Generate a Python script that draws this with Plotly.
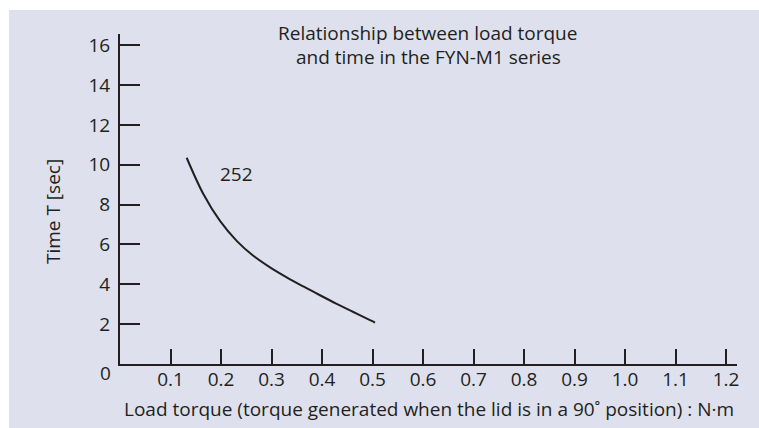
import plotly.graph_objects as go

# ---- data ----
torque = [0.132, 0.165, 0.198, 0.231, 0.264, 0.297, 0.330, 0.363, 0.396, 0.429, 0.462, 0.495, 0.505]
time_sec = [10.35, 8.53, 7.18, 6.18, 5.43, 4.85, 4.35, 3.89, 3.45, 3.02, 2.61, 2.20, 2.08]
series_label = "252"
x_ticks = [0.1, 0.2, 0.3, 0.4, 0.5, 0.6, 0.7, 0.8, 0.9, 1.0, 1.1, 1.2]
x_ticktext = ["0.1", "0.2", "0.3", "0.4", "0.5", "0.6", "0.7", "0.8", "0.9", "1.0", "1.1", "1.2"]
y_ticks = [2, 4, 6, 8, 10, 12, 14, 16]
title_lines = ["Relationship between load torque", "and time in the FYN-M1 series"]
x_title = "Load torque (torque generated when the lid is in a 90˚ position) : N·m"
y_title = "Time T [sec]"

W, H = 759, 428
ML, MR, MT, MB = 120, 22, 34, 64
PW, PH = W - ML - MR, H - MT - MB

def px(x):
    return (x - ML) / PW

def py(y):
    return (H - MB - y) / PH

FONT = "Open Sans"
TXT = "#231f20"
BG = "#dee1ed"
FS = 19

fig = go.Figure()
fig.add_trace(go.Scatter(x=torque, y=time_sec, mode="lines",
                         line=dict(color=TXT, width=2, shape="spline", smoothing=1.0),
                         hoverinfo="skip", showlegend=False))

fig.update_layout(
    width=W, height=H,
    margin=dict(l=ML, r=MR, t=MT, b=MB, pad=0),
    paper_bgcolor="white",
    plot_bgcolor="rgba(0,0,0,0)",
    font=dict(family=FONT, color=TXT, size=FS),
    showlegend=False,
    xaxis=dict(range=[0, 1.2216], showgrid=False, zeroline=False,
               showline=True, linecolor=TXT, linewidth=2,
               ticks="inside", ticklen=15, tickwidth=2, tickcolor=TXT,
               tickvals=x_ticks, ticktext=x_ticktext, ticklabelstandoff=-3,
               tickfont=dict(size=FS, family=FONT, color=TXT), fixedrange=True),
    yaxis=dict(range=[0, 16.56], showgrid=False, zeroline=False,
               showline=True, linecolor=TXT, linewidth=2,
               ticks="inside", ticklen=20, tickwidth=2, tickcolor=TXT,
               tickvals=y_ticks, ticklabelstandoff=4,
               tickfont=dict(size=FS, family=FONT, color=TXT), fixedrange=True),
    shapes=[dict(type="rect", xref="paper", yref="paper",
                 x0=px(9), x1=px(W + 2), y0=py(H + 2), y1=py(10),
                 fillcolor=BG, line=dict(width=0), layer="below")],
)

ann = []
ann.append(dict(text=title_lines[0], x=px(427), y=py(33)))
ann.append(dict(text=title_lines[1], x=px(428), y=py(57)))
ann.append(dict(text=x_title, x=px(429), y=py(409)))
ann.append(dict(text=y_title, x=px(53), y=py(212), textangle=-90))
ann.append(dict(text=series_label, x=px(236), y=py(174)))
ann.append(dict(text="0", x=px(105), y=py(373)))
for a in ann:
    a.update(xref="paper", yref="paper", showarrow=False,
             xanchor="center", yanchor="middle",
             font=dict(family=FONT, size=FS, color=TXT))
fig.update_layout(annotations=ann)

fig.write_html("out.html",
               config={"displayModeBar": False, "staticPlot": True},
               post_script="document.body.style.margin='0';document.body.style.overflow='hidden';")
